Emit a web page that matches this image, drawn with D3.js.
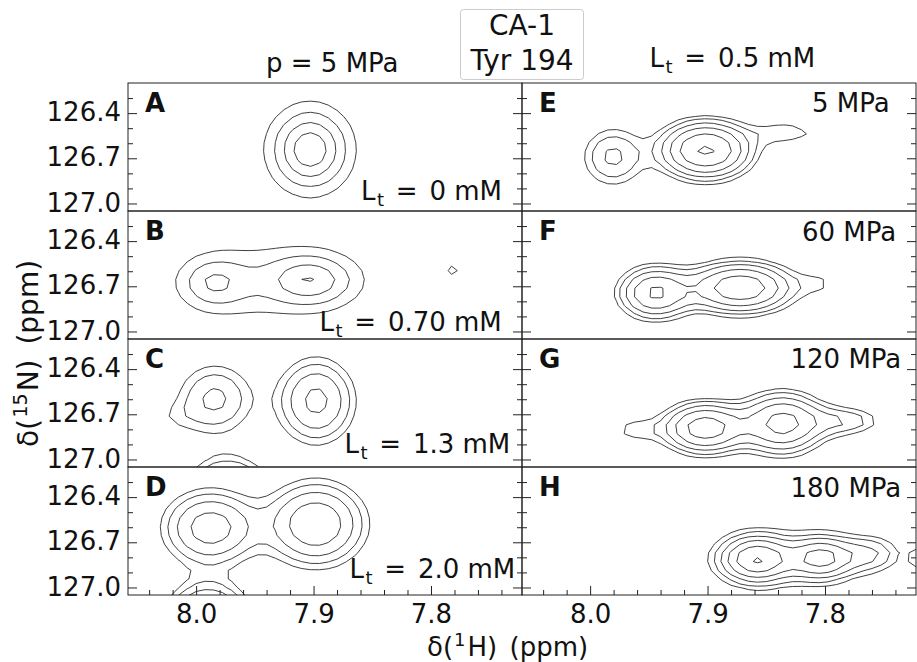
<!DOCTYPE html>
<html>
<head>
<meta charset="utf-8">
<script src="https://cdn.jsdelivr.net/npm/d3@7"></script>
<style>
  body { margin: 0; background: #fff; }
  text { font-family: "DejaVu Sans", "Liberation Sans", sans-serif; fill: #111; white-space: pre; }
</style>
</head>
<body>
<svg id="chart" width="917" height="662"></svg>
<script>
// ---- data -------------------------------------------------------------
// Panels: left column = ligand titration at 5 MPa, right column = pressure series at Lt = 0.5 mM
const panelIds = ["A", "B", "C", "D", "E", "F", "G", "H"];
const ligandConc = ["0", "0.70", "1.3", "2.0"];          // mM, panels A-D
const pressures = ["5 MPa", "60 MPa", "120 MPa", "180 MPa"]; // panels E-H

// Cross peaks: [δH (ppm), δN (ppm), intensity, half-width H (ppm), half-width N (ppm), Lorentzian fraction]
const peaksA = [[7.903, 126.642, 4.7, 0.0204, 0.166, 1]];
const peaksB = [[7.984, 126.676, 2.1, 0.026, 0.146, 1],
                [7.9037, 126.660, 3.15, 0.030, 0.133, 1],
                [7.781, 126.592, 1.0, 0.0085, 0.066, 0]];
const peaksC = [[7.984, 126.598, 2.4, 0.0264, 0.193, 0],
                [8.020, 126.720, 0.6, 0.018, 0.09, 0],
                [7.8977, 126.612, 3.6, 0.025, 0.215, 0],
                [7.973, 127.33, 8.0, 0.025, 0.2, 0]];
const peaksD = [[7.988, 126.604, 4.0, 0.030, 0.186, 0],
                [7.898, 126.579, 4.5, 0.031, 0.206, 0],
                [7.990, 127.296, 8.0, 0.025, 0.2, 0]];
const peaksE = [[7.9016, 126.645, 7.5, 0.0272, 0.133, 0],
                [7.9806, 126.691, 2.4, 0.0213, 0.16, 0],
                [7.833, 126.530, 1.4, 0.025, 0.07, 0]];
const peaksF = [[7.8722, 126.709, 6.5, 0.032, 0.12, 0],
                [7.9448, 126.744, 5.0, 0.0226, 0.126, 0],
                [7.8036, 126.680, 0.9, 0.017, 0.08, 0]];
const peaksG = [[7.9023, 126.791, 6.1, 0.0255, 0.12, 0],
                [7.8363, 126.760, 5.5, 0.0255, 0.146, 0],
                [7.962, 126.804, 1.2, 0.019, 0.08, 0],
                [7.783, 126.745, 2.0, 0.0255, 0.08, 0]];
const peaksH = [[7.858, 126.811, 7.3, 0.0221, 0.106, 0.3],
                [7.8035, 126.806, 5.6, 0.0204, 0.10, 0.3],
                [7.762, 126.780, 2.0, 0.0204, 0.093, 0],
                [7.7165, 126.808, 1.6, 0.0102, 0.066, 0]];
const panelPeaks = [peaksA, peaksB, peaksC, peaksD, peaksE, peaksF, peaksG, peaksH];

// Contour levels (geometric, factor 1.48)
const contourLevels = [1, 1.48, 2.19, 3.24, 4.8, 7.1, 10.5];

// Axes
const xDomain = [8.058, 7.7225];
const yDomain = [126.2, 127.05];
const xTicksMajor = [8.0, 7.9, 7.8];
const yTicksMajor = [126.4, 126.7, 127.0];
const yTicksMinor = [126.3, 126.5, 126.6, 126.8, 126.9];
const xTicksMinor = [8.04, 8.02, 7.98, 7.96, 7.94, 7.92, 7.88, 7.86, 7.84, 7.82, 7.78, 7.76, 7.74];

// ---- layout -----------------------------------------------------------
const originX = 128, originY = 83, colW = 394, rowH = 128;
const letterPos = [17, 28.6];
const ligandNotePos = [[233, 117], [191.5, 119.7], [216.5, 114.3], [221.5, 111.3]];
const pressureNotePos = [[290, 29], [280, 29.5], [268.5, 29.2], [268.5, 29.5]];
const FS = 26;

const svg = d3.select("#chart");
const x = d3.scaleLinear().domain(xDomain).range([0, colW]);
const y = d3.scaleLinear().domain(yDomain).range([0, rowH]);

svg.append("defs").append("clipPath").attr("id", "plotClip")
  .append("rect").attr("width", colW).attr("height", rowH);

// Spectrum grid on which the contours are traced (digital resolution of the spectra)
const grid = { x0: 8.12, dx: -0.0075, nx: 63, y0: 125.9, dy: 0.058, ny: 30 };

function spectrum(peaks) {
  const v = new Float64Array(grid.nx * grid.ny);
  for (let j = 0; j < grid.ny; j++) {
    const py = grid.y0 + j * grid.dy;
    for (let i = 0; i < grid.nx; i++) {
      const px = grid.x0 + i * grid.dx;
      let s = 0;
      for (const p of peaks) {
        const u2 = ((px - p[0]) / p[3]) ** 2 + ((py - p[1]) / p[4]) ** 2;
        s += p[2] * (p[5] / (1 + u2) + (1 - p[5]) * Math.pow(2, -u2));
      }
      v[j * grid.nx + i] = s;
    }
  }
  return v;
}

const gridToPlot = d3.geoTransform({
  point(cx, cy) {
    this.stream.point(x(grid.x0 + (cx - 0.5) * grid.dx), y(grid.y0 + (cy - 0.5) * grid.dy));
  }
});
const contourPath = d3.geoPath(gridToPlot);
const contourGen = d3.contours().size([grid.nx, grid.ny]).thresholds(contourLevels);

function styleAxis(g) {
  g.select(".domain").remove();
  g.selectAll("line").attr("stroke", "#222").attr("stroke-width", 1);
  g.attr("font-family", null).attr("font-size", null);
  g.selectAll("text").style("font-size", FS + "px").attr("fill", "#111");
}

// "L_t = … mM" with a subscript t and relation spacing around "="
function ligandLabel(sel, value) {
  sel.append("tspan").text("L");
  sel.append("tspan").style("font-size", "18px").attr("dx", 1.5).attr("dy", 6).text("t");
  sel.append("tspan").attr("dx", 3.5).attr("dy", -6).text(" =");
  sel.append("tspan").attr("dx", 3.5).text(` ${value} mM`);
}

panelIds.forEach((id, k) => {
  const col = Math.floor(k / 4), row = k % 4;
  const g = svg.append("g")
    .attr("transform", `translate(${originX + col * colW},${originY + row * rowH})`);

  // contours
  const values = spectrum(panelPeaks[k]);
  g.append("g").attr("clip-path", "url(#plotClip)")
    .selectAll("path")
    .data(contourGen(values))
    .join("path")
    .attr("d", contourPath)
    .attr("fill", "none")
    .attr("stroke", "#2b2b2b")
    .attr("stroke-width", 0.9)
    .attr("stroke-linejoin", "round");

  // y ticks on both spines (inward)
  const leftMajor = d3.axisLeft(y).tickValues(yTicksMajor).tickSize(-9).tickPadding(7)
    .tickFormat(col === 0 ? d3.format(".1f") : () => "");
  g.append("g").call(leftMajor).call(styleAxis).selectAll("text").attr("dy", "0.29em");
  g.append("g").call(d3.axisLeft(y).tickValues(yTicksMinor).tickSize(-5).tickFormat(() => "")).call(styleAxis);
  g.append("g").attr("transform", `translate(${colW},0)`)
    .call(d3.axisRight(y).tickValues(yTicksMajor).tickSize(-9).tickFormat(() => "")).call(styleAxis);
  g.append("g").attr("transform", `translate(${colW},0)`)
    .call(d3.axisRight(y).tickValues(yTicksMinor).tickSize(-5).tickFormat(() => "")).call(styleAxis);

  // x ticks on the bottom row only
  if (row === 3) {
    g.append("g").attr("transform", `translate(0,${rowH})`)
      .call(d3.axisBottom(x).tickValues(xTicksMajor).tickSize(-9).tickPadding(9.5).tickFormat(d3.format(".1f")))
      .call(styleAxis);
    g.append("g").attr("transform", `translate(0,${rowH})`)
      .call(d3.axisBottom(x).tickValues(xTicksMinor).tickSize(-5).tickFormat(() => ""))
      .call(styleAxis);
  }

  // frame
  g.append("rect").attr("width", colW).attr("height", rowH)
    .attr("fill", "none").attr("stroke", "#222").attr("stroke-width", 1);

  // panel letter
  g.append("text").attr("x", letterPos[0]).attr("y", letterPos[1])
    .style("font-size", FS + "px").style("font-weight", "bold").text(id);

  // condition label
  if (col === 0) {
    const t = g.append("text").attr("x", ligandNotePos[row][0]).attr("y", ligandNotePos[row][1])
      .style("font-size", FS + "px");
    ligandLabel(t, ligandConc[row]);
  } else {
    g.append("text").attr("x", pressureNotePos[row][0]).attr("y", pressureNotePos[row][1])
      .style("font-size", FS + "px").text(pressures[row]);
  }
});

// ---- column headers and residue box -----------------------------------
svg.append("text").attr("x", 266).attr("y", 71.5).style("font-size", FS + "px").text("p = 5 MPa");

const lt = svg.append("text").attr("x", 649.5).attr("y", 66.7).style("font-size", FS + "px");
ligandLabel(lt, "0.5");

svg.append("rect").attr("x", 460.5).attr("y", 9.5).attr("width", 123).attr("height", 70)
  .attr("rx", 3).attr("fill", "#fff").attr("stroke", "#cccccc").attr("stroke-width", 1);
svg.append("text").attr("x", 522).attr("y", 35).attr("text-anchor", "middle")
  .style("font-size", "28px").text("CA-1");
svg.append("text").attr("x", 522).attr("y", 70).attr("text-anchor", "middle")
  .style("font-size", "28px").text("Tyr 194");

// ---- axis titles ------------------------------------------------------
const xl = svg.append("text").attr("x", 427).attr("y", 656).style("font-size", FS + "px");
xl.append("tspan").text("δ(");
xl.append("tspan").style("font-size", "18px").attr("dx", 1).attr("dy", -10).text("1");
xl.append("tspan").attr("dx", 2).attr("dy", 10).text("H)");
xl.append("tspan").attr("dx", 4).text(" (ppm)");

const yl = svg.append("text").attr("transform", "translate(38,353.5) rotate(-90)")
  .attr("text-anchor", "middle").style("font-size", "28px");
yl.append("tspan").text("δ(");
yl.append("tspan").style("font-size", "19px").attr("dx", 1.5).attr("dy", -11).text("15");
yl.append("tspan").attr("dx", 2).attr("dy", 11).text("N)");
yl.append("tspan").attr("dx", 6).text(" (ppm)");
</script>
</body>
</html>
